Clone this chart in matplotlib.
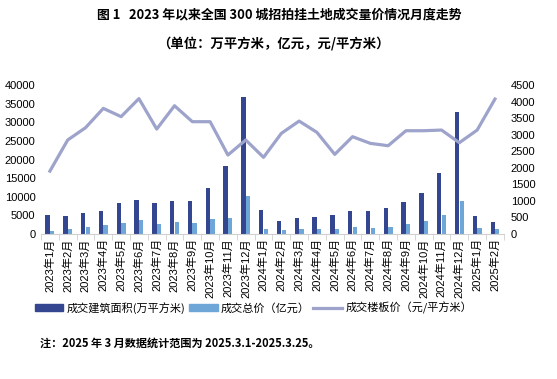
import numpy as np
import matplotlib
matplotlib.use('Agg')
import matplotlib.pyplot as plt
from matplotlib.patches import Patch
from matplotlib.lines import Line2D

plt.rcParams['font.family'] = ['Liberation Sans', 'Noto Sans CJK SC', 'DejaVu Sans']

# 月份
meses = ['2023年%d月' % m for m in range(1, 13)] + \
        ['2024年%d月' % m for m in range(1, 13)] + \
        ['2025年1月', '2025年2月']

# 成交建筑面积（万平方米）
area = [5100, 4830, 5640, 6180, 8320, 9130, 8320, 8860, 8860, 12350, 18260, 36780,
        6440, 3490, 4300, 4560, 5100, 6180, 6180, 6980, 8590, 11000, 16380, 32760,
        4830, 3220]
# 成交总价（亿元）
total = [800, 1340, 1970, 2500, 3040, 3760, 2690, 3220, 2950, 4030, 4300, 10200,
         1340, 1070, 1340, 1340, 1340, 1880, 1610, 1880, 2690, 3490, 5100, 8860,
         1610, 1340]
# 成交楼板价（元/平方米）
precio = [1900, 2840, 3210, 3795, 3545, 4090, 3170, 3875, 3393, 3393, 2386, 2840,
          2316, 3040, 3412, 3070, 2406, 2940, 2738, 2667, 3120, 3120, 3140, 2758,
          3140, 4077]

c_area = '#34468f'
c_total = '#6fa6d8'
c_line = '#9ea3cb'

fig = plt.figure(figsize=(5.57, 3.79), dpi=100)
ax = fig.add_axes([0.0736, 0.3826, 0.831, 0.393])
x = np.arange(len(meses))
w = 0.24
ax.bar(x - 0.13, area, w, color=c_area)
ax.bar(x + 0.13, total, w, color=c_total)
ax.set_xlim(-0.5, len(meses) - 0.5)
ax.set_ylim(0, 40000)
ax.set_yticks(range(0, 40001, 5000))
ax.set_xticks(x)
ax.set_xticklabels(meses, rotation=90, fontsize=8)
ax.set_xticks(np.arange(-0.5, len(meses), 1), minor=True)
ax.tick_params(axis='x', which='major', length=0, pad=3)
ax.tick_params(axis='x', which='minor', length=4, color='#d0d0d0')
ax.tick_params(axis='y', length=0, labelsize=8, pad=4)
for s in ['top', 'right', 'left']:
    ax.spines[s].set_visible(False)
ax.spines['bottom'].set_color('#d0d0d0')

ax2 = ax.twinx()
ax2.plot(x, precio, color=c_line, linewidth=2.3)
ax2.set_ylim(0, 4500)
ax2.set_yticks(range(0, 4501, 500))
ax2.tick_params(axis='y', length=0, labelsize=8, pad=5)
for s in ax2.spines.values():
    s.set_visible(False)

fig.text(0.502, 0.963, '图 1   2023 年以来全国 300 城招拍挂土地成交量价情况月度走势',
         ha='center', va='center', fontsize=9.3, fontweight='bold',
         family=['Noto Sans CJK SC'])
fig.text(0.49, 0.884, '（单位：万平方米，亿元，元/平方米）',
         ha='center', va='center', fontsize=9.6, fontweight='bold',
         family=['Noto Sans CJK SC'])

handles = [Patch(color=c_area), Patch(color=c_total),
           Line2D([], [], color=c_line, linewidth=2.3)]
labels = ['成交建筑面积(万平方米)', '成交总价（亿元）', '成交楼板价（元/平方米）']
fig.legend(handles, labels, loc='center', bbox_to_anchor=(0.455, 0.188), ncol=3,
           frameon=False, handlelength=2.6, handleheight=0.7,
           handletextpad=0.3, columnspacing=0.3,
           prop={'family': ['Noto Sans CJK SC'], 'size': 8})

fig.text(0.072, 0.095, '注：2025 年 3 月数据统计范围为 2025.3.1-2025.3.25。',
         ha='left', va='center', fontsize=8, fontweight='bold',
         family=['Noto Sans CJK SC'])

fig.savefig('out.png', dpi=100)
